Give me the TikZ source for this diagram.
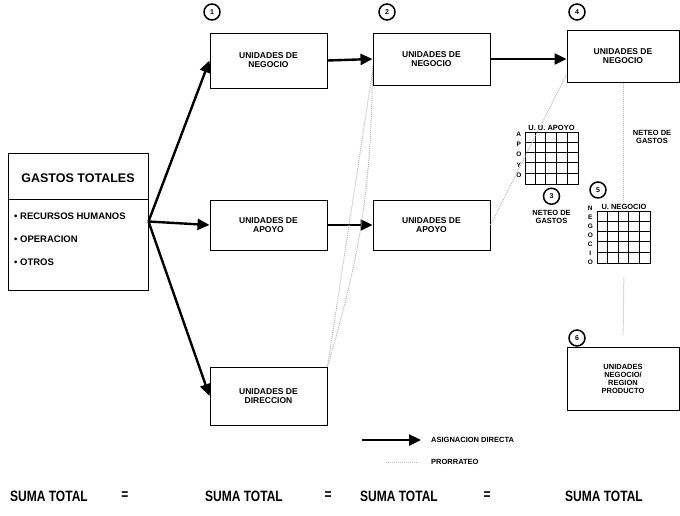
\documentclass[tikz,border=0pt]{standalone}
\usepackage{fontspec}
\setmainfont{Liberation Sans}
\newfontfamily\estrecha[FakeStretch=0.8]{Liberation Sans}
\usetikzlibrary{arrows.meta,positioning}

\tikzset{
  unidad/.style={draw, line width=1pt, minimum width=117pt, minimum height=52pt,
    align=center, inner sep=2pt, font=\bfseries\fontsize{8.5}{9}\selectfont},
  directa/.style={line width=2.4pt, -{Triangle[length=12pt,width=11pt]}},
  prorrateo/.style={gray!55, line width=1pt, densely dotted},
  numero/.style={circle, draw, line width=1.5pt, minimum size=16pt, inner sep=0pt,
    font=\bfseries\fontsize{7}{7}\selectfont},
  etiq/.style={font=\bfseries\fontsize{7.5}{8.5}\selectfont, align=center, inner sep=1pt},
  suma/.style={font=\estrecha\bfseries\fontsize{15}{15}\selectfont, inner sep=0pt},
  matriz/.style={draw, line width=1pt, minimum width=53pt, minimum height=52pt, inner sep=0pt},
}

\begin{document}
\begin{tikzpicture}[x=1pt,y=-1pt]
  \useasboundingbox (0,0) rectangle (680,515);

  % gastos totales
  \node[draw, line width=1pt, minimum width=140pt, minimum height=137pt, inner sep=0pt] (gastos) at (78,221.5) {};
  \node[font=\bfseries\fontsize{12.5}{12.5}\selectfont] (titulo) at (78,178) {GASTOS TOTALES};
  \draw[line width=1pt] (gastos.west |- 0,199) -- (gastos.east |- 0,199);
  \node[etiq, anchor=west, font=\bfseries\fontsize{9.5}{9.5}\selectfont] (rh) at (13,216) {• RECURSOS HUMANOS};
  \node[etiq, anchor=west, font=\bfseries\fontsize{9.5}{9.5}\selectfont] (op) at (13,239) {• OPERACION};
  \node[etiq, anchor=west, font=\bfseries\fontsize{9.5}{9.5}\selectfont] (ot) at (13,262) {• OTROS};

  % primera columna
  \node[unidad, minimum height=55pt] (neg1) at (268.5,60.5) {UNIDADES DE\\NEGOCIO};
  \node[unidad, minimum height=50pt] (apo1) at (268.5,225) {UNIDADES DE\\APOYO};
  \node[unidad, minimum height=58pt] (dir1) at (268.5,396) {UNIDADES DE\\DIRECCION};
  \node[numero] (n1) at (212,12) {1};

  % segunda columna
  \node[unidad] (neg2) at (431.5,59) {UNIDADES DE\\NEGOCIO};
  \node[unidad, minimum height=50pt] (apo2) at (431.5,225) {UNIDADES DE\\APOYO};
  \node[numero] (n2) at (387,12) {2};

  % tercera columna
  \node[unidad, minimum width=112pt] (neg3) at (623,56) {UNIDADES DE\\NEGOCIO};
  \node[numero] (n4) at (577,12) {4};

  % matriz de apoyo
  \node[matriz] (gapo) at (551.5,158) {};
  \foreach \i in {1,...,4} {
    \draw[line width=0.8pt] ([xshift=\i*10.6pt]gapo.north west) -- ([xshift=\i*10.6pt]gapo.south west);
    \draw[line width=0.8pt] ([yshift=-\i*10.4pt]gapo.north west) -- ([yshift=-\i*10.4pt]gapo.north east);
  }
  \node[etiq, above=0pt of gapo] (lapo) {U. U. APOYO};
  \node[etiq, anchor=north east, font=\bfseries\fontsize{6.5}{10.4}\selectfont] (vapo) at ([xshift=-2pt,yshift=1pt]gapo.north west) {A\\P\\O\\Y\\O};
  \node[numero, below=3pt of gapo] (n3) {3};
  \node[etiq, below=4pt of n3] (neteo1) {NETEO DE\\GASTOS};

  % matriz de negocio
  \node[matriz] (gneg) at (624,237) {};
  \foreach \i in {1,...,4} {
    \draw[line width=0.8pt] ([xshift=\i*10.6pt]gneg.north west) -- ([xshift=\i*10.6pt]gneg.south west);
    \draw[line width=0.8pt] ([yshift=-\i*10.4pt]gneg.north west) -- ([yshift=-\i*10.4pt]gneg.north east);
  }
  \node[etiq, above=0pt of gneg] (lneg) {U. NEGOCIO};
  \node[etiq, anchor=north east, font=\bfseries\fontsize{6.5}{9}\selectfont] (vneg) at ([xshift=-3pt,yshift=6pt]gneg.north west) {N\\E\\G\\O\\C\\I\\O};
  \node[numero] (n5) at (598,190) {5};
  \node[etiq] (neteo2) at (652,137) {NETEO DE\\GASTOS};

  % resultado final
  \node[unidad, minimum width=112pt, minimum height=63pt, font=\bfseries\fontsize{7.5}{8}\selectfont] (final) at (623,378.5) {UNIDADES\\NEGOCIO/\\REGION\\PRODUCTO};
  \node[numero] (n6) at (577,338) {6};

  % asignacion directa
  \draw[directa] (gastos.east) -- (neg1.west);
  \draw[directa] (gastos.east) -- (apo1.west);
  \draw[directa] (gastos.east) -- (dir1.west);
  \draw[directa] (neg1.east) -- (neg2.west);
  \draw[directa] (apo1.east) -- (apo2.west);
  \draw[directa] (neg2.east) -- (neg2.east -| neg3.west);

  % prorrateo
  \draw[prorrateo] (dir1.north east) -- ([yshift=14pt]neg2.south west);
  \draw[prorrateo] (dir1.north east) to[bend right=8] ([yshift=20pt]neg2.south west);
  \draw[prorrateo] (apo2.east) -- ([yshift=8pt]neg3.south west);
  \draw[prorrateo] (neg3.south) -- (lneg.north -| neg3.south);
  \draw[prorrateo, shorten <=14pt, shorten >=12pt] (gneg.south) -- (final.north);

  % leyenda
  \coordinate (ld1) at (362,440);
  \coordinate (ld2) at (421,440);
  \draw[directa] (ld1) -- (ld2);
  \node[etiq, right=9pt of ld2] (lasig) {ASIGNACION DIRECTA};
  \coordinate (lp1) at (386,462);
  \coordinate (lp2) at (418,462);
  \draw[prorrateo] (lp1) -- (lp2);
  \node[etiq, right=12pt of lp2] (lpro) {PRORRATEO};

  % sumas
  \node[suma, anchor=west] (s1) at (10,496) {SUMA TOTAL};
  \node[suma] (e1) at (125,496) {=};
  \node[suma, anchor=west] (s2) at (205,496) {SUMA TOTAL};
  \node[suma] (e2) at (328,496) {=};
  \node[suma, anchor=west] (s3) at (360,496) {SUMA TOTAL};
  \node[suma] (e3) at (487,496) {=};
  \node[suma, anchor=west] (s4) at (565,496) {SUMA TOTAL};
\end{tikzpicture}
\end{document}
